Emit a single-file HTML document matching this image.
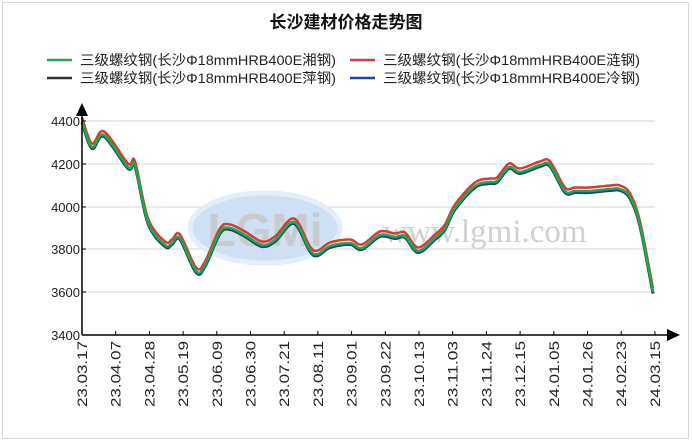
<!DOCTYPE html>
<html><head><meta charset="utf-8"><style>
body{margin:0;background:#fff;}
svg{display:block;font-family:"Liberation Sans","Noto Sans CJK SC",sans-serif;}
</style></head><body>
<svg id="s" width="692" height="442" viewBox="0 0 692 442">
<rect x="2.5" y="2.5" width="686" height="436" fill="#fff" stroke="#d8d8d8"/>
<text x="346" y="28" text-anchor="middle" font-size="17" font-weight="bold" fill="#111">长沙建材价格走势图</text>
<g font-size="14" fill="#222">
<line x1="47" y1="60" x2="72" y2="60" stroke="#1aaa4a" stroke-width="2.5"/>
<text x="80" y="65" textLength="256" lengthAdjust="spacingAndGlyphs">三级螺纹钢(长沙Φ18mmHRB400E湘钢)</text>
<line x1="350" y1="60" x2="375" y2="60" stroke="#d83a35" stroke-width="2.5"/>
<text x="383" y="65" textLength="257" lengthAdjust="spacingAndGlyphs">三级螺纹钢(长沙Φ18mmHRB400E涟钢)</text>
<line x1="47" y1="78" x2="72" y2="78" stroke="#333" stroke-width="2.5"/>
<text x="80" y="83" textLength="256" lengthAdjust="spacingAndGlyphs">三级螺纹钢(长沙Φ18mmHRB400E萍钢)</text>
<line x1="350" y1="78" x2="375" y2="78" stroke="#1a44b0" stroke-width="2.5"/>
<text x="383" y="83" textLength="257" lengthAdjust="spacingAndGlyphs">三级螺纹钢(长沙Φ18mmHRB400E冷钢)</text>
</g>
<g stroke="#dcdcdc" stroke-width="1.3">
<line x1="82" y1="121" x2="655" y2="121"/><line x1="82" y1="164" x2="655" y2="164"/>
<line x1="82" y1="207" x2="655" y2="207"/><line x1="82" y1="249" x2="655" y2="249"/>
<line x1="82" y1="292" x2="655" y2="292"/>
</g>
<ellipse cx="265" cy="228" rx="75" ry="35" fill="#cfe0f2" stroke="#e4eef8" stroke-width="5"/>
<text x="265" y="246" text-anchor="middle" font-size="46" font-weight="bold" fill="#c8c8c8" opacity="0.85">LGMi</text>
<text x="485" y="242" text-anchor="middle" font-family="Liberation Serif,serif" font-size="33" fill="#d0d0d0">www.lgmi.com</text>
<g font-size="13" fill="#222" text-anchor="end">
<text x="80" y="126">4400</text><text x="80" y="169">4200</text><text x="80" y="212">4000</text>
<text x="80" y="254">3800</text><text x="80" y="297">3600</text><text x="80" y="340">3400</text>
</g>
<g id="series"></g>
<line x1="82" y1="335" x2="82" y2="114" stroke="#000" stroke-width="1.5"/>
<polygon points="82,103 76,116 88,116" fill="#000"/>
<line x1="82" y1="335" x2="668" y2="335" stroke="#000" stroke-width="1.5"/>
<polygon points="680,335 667,329 667,341" fill="#000"/>
<g id="ticks"></g>
</svg>
<script>
var labels=["23.03.17","23.04.07","23.04.28","23.05.19","23.06.09","23.06.30","23.07.21","23.08.11","23.09.01","23.09.22","23.10.13","23.11.03","23.11.24","23.12.15","24.01.05","24.01.26","24.02.23","24.03.15"];
var t="";
labels.forEach(function(l,i){var x=82+i*33.7;
t+='<line x1="'+x+'" y1="335" x2="'+x+'" y2="331" stroke="#000"/>';
t+='<text transform="translate('+(x+5)+',407) rotate(-90)" font-size="14" fill="#222" textLength="66" lengthAdjust="spacingAndGlyphs">'+l+'</text>';});
t+='<g stroke="#000">';[121,164,207,249,292].forEach(function(y){t+='<line x1="82" y1="'+y+'" x2="86" y2="'+y+'"/>';});t+='</g>';
document.getElementById("ticks").innerHTML=t;
var p=[[82,121],[92,147],[104,135],[128,167],[135,165],[148,222],[165,245],[172,243],[180,238],[196,271],[205,265],[220,232],[230,228],[245,235],[262,245],[275,240],[294,222],[310,250],[318,254],[330,246],[350,243],[362,248],[380,235],[395,237],[405,236],[418,251],[435,238],[445,228],[455,208],[475,186],[490,182],[497,181],[509,167],[520,172],[540,165],[550,165],[565,191],[575,191],[590,191],[610,189],[620,189],[630,197],[640,225],[653,292]];
function path(dy){var d="M"+p[0][0]+","+(p[0][1]+dy);
for(var i=0;i<p.length-1;i++){var a=p[Math.max(0,i-1)],b=p[i],c=p[i+1],e=p[Math.min(p.length-1,i+2)];
var c1x=b[0]+(c[0]-a[0])/6,c1y=b[1]+(c[1]-a[1])/6,c2x=c[0]-(e[0]-b[0])/6,c2y=c[1]-(e[1]-b[1])/6;
d+=" C"+c1x.toFixed(1)+","+(c1y+dy).toFixed(1)+" "+c2x.toFixed(1)+","+(c2y+dy).toFixed(1)+" "+c[0]+","+(c[1]+dy);}
return d;}
var s="";
s+='<path d="'+path(-3.5)+'" fill="none" stroke="#d83a35" stroke-width="2.5"/>';
s+='<path d="'+path(1.5)+'" fill="none" stroke="#333" stroke-width="3"/>';
s+='<path d="'+path(1)+'" fill="none" stroke="#1a44b0" stroke-width="2.5"/>';
s+='<path d="'+path(0)+'" fill="none" stroke="#1aaa4a" stroke-width="2.5"/>';
document.getElementById("series").innerHTML=s;
</script>
</body></html>
